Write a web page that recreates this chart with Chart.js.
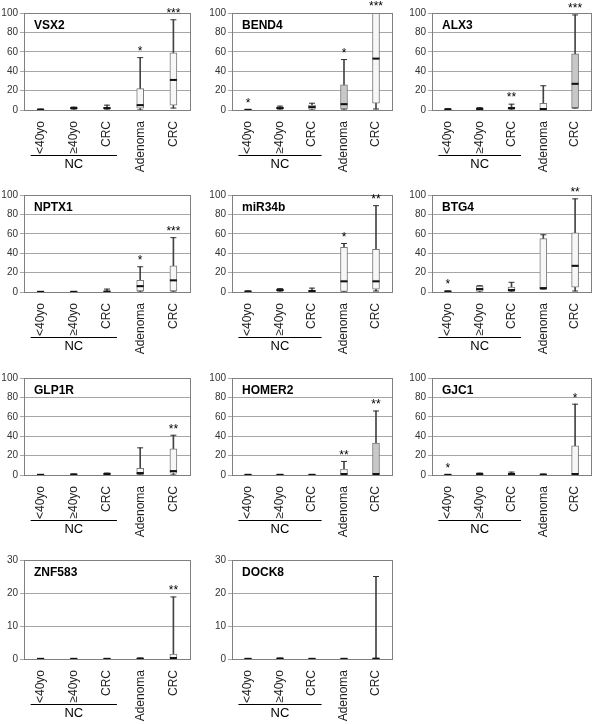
<!DOCTYPE html>
<html>
<head>
<meta charset="utf-8">
<script src="https://cdn.jsdelivr.net/npm/chart.js@4"></script>
<style>
  body { margin: 0; background: #fff; }
  #wrap { position: relative; width: 602px; height: 724px; }
  .panel { position: absolute; }
</style>
</head>
<body>
<div id="wrap"></div>
<script>
// groups on the x axis (first three are the NC group)
const groups = ['<40yo', '\u226540yo', 'CRC', 'Adenoma', 'CRC'];
const genes = ['VSX2', 'BEND4', 'ALX3', 'NPTX1', 'miR34b', 'BTG4', 'GLP1R', 'HOMER2', 'GJC1', 'ZNF583', 'DOCK8'];
const yMax = [100, 100, 100, 100, 100, 100, 100, 100, 100, 30, 30];

// each row: [min, q1, median, q3, max]
const VSX2 = [[0, 0, 0.3, 0.5, 1], [0, 1, 2, 2.5, 3], [0, 1, 2, 2.5, 5], [0, 2, 5, 22, 54], [2, 5, 31, 59, 93]];
const BEND4 = [[0, 0, 0.2, 0.5, 0.5], [0, 1, 2, 3, 4], [0, 1, 3, 5, 7], [0, 1, 6, 26, 52], [1, 7, 53, 130, 140]];
const ALX3 = [[0, 0, 0.5, 1, 1.5], [0, 0.5, 1, 2, 2.5], [0, 1, 2, 3, 6], [0, 0, 1, 7, 25], [2, 2, 27, 58, 98]];
const NPTX1 = [[0, 0, 0.2, 0.3, 0.5], [0, 0, 0.2, 0.3, 0.5], [0, 0, 0.5, 1, 3], [0, 1, 6, 12, 26], [0, 1, 12, 27, 56]];
const miR34b = [[0, 0, 0.5, 1, 1], [0, 1, 2, 3, 3.5], [0, 0, 1, 2, 4], [0, 0, 11, 46, 50], [1, 3, 11, 44, 89]];
const BTG4 = [[0, 0, 0.5, 1, 1], [0, 1, 3, 6, 6.5], [0, 1, 2, 5, 10], [3, 3, 4, 55, 59], [1, 5, 27, 61, 96]];
const GLP1R = [[0, 0, 0.2, 0.3, 0.5], [0, 0, 0.5, 1, 1], [0, 0.5, 1, 2, 2], [0, 0, 2, 7, 28], [0, 2, 4, 27, 41]];
const HOMER2 = [[0, 0, 0.2, 0.3, 0.5], [0, 0, 0.2, 0.3, 0.5], [0, 0, 0.2, 0.3, 0.5], [0, 0, 1, 6, 14], [0, 0, 1, 33, 66]];
const GJC1 = [[0, 0, 0.2, 0.3, 0.5], [0, 0.5, 1, 1.5, 2], [0, 0.5, 1, 1.5, 3], [0, 0, 0.3, 0.5, 1], [0, 0, 1, 30, 73]];
const ZNF583 = [[0, 0, 0.05, 0.1, 0.1], [0, 0, 0.05, 0.1, 0.1], [0, 0, 0.05, 0.1, 0.1], [0, 0, 0.1, 0.2, 0.3], [0, 0, 0.3, 1.5, 18.8]];
const DOCK8 = [[0, 0, 0.05, 0.1, 0.1], [0, 0, 0.1, 0.3, 0.3], [0, 0, 0.05, 0.1, 0.1], [0, 0, 0.05, 0.1, 0.1], [0, 0, 0.1, 0.3, 25]];

// significance marks per group
const stars = {
    VSX2: ['', '', '', '*', '***'],
    BEND4: ['*', '', '', '*', '***'],
    ALX3: ['', '', '**', '', '***'],
    NPTX1: ['', '', '', '*', '***'],
    miR34b: ['', '', '', '*', '**'],
    BTG4: ['*', '', '', '', '**'],
    GLP1R: ['', '', '', '', '**'],
    HOMER2: ['', '', '', '**', '**'],
    GJC1: ['*', '', '', '', '*'],
    ZNF583: ['', '', '', '', '**'],
    DOCK8: ['', '', '', '', '']
};
const boxData = {VSX2, BEND4, ALX3, NPTX1, miR34b, BTG4, GLP1R, HOMER2, GJC1, ZNF583, DOCK8};
const shaded = {BEND4: [3], ALX3: [4], HOMER2: [4]};

const FONT = "'Liberation Sans', Arial, sans-serif";
const colLeft = [0, 200, 400];
const yAxisW = [24, 32, 32];
const padRight = [10, 8, 9];
const rowTop = [0, 182, 365, 547];
const rowH = [180, 180, 180, 177];
const plotH = [97, 97, 97, 99];
const PAD_TOP = 13;

const panelDecor = {
    id: 'panelDecor',
    afterDatasetsDraw(chart, args, opts) {
        const {ctx, chartArea: a, scales: {x, y}} = chart;
        ctx.save();
        // frame
        ctx.strokeStyle = '#808080';
        ctx.lineWidth = 1;
        ctx.strokeRect(Math.round(a.left) + 0.5, Math.round(a.top) + 0.5, Math.round(a.right - a.left), Math.round(a.bottom - a.top));
        // gene name
        ctx.fillStyle = '#000';
        ctx.font = 'bold 12px ' + FONT;
        ctx.textBaseline = 'middle';
        ctx.textAlign = 'left';
        ctx.fillText(opts.gene, a.left + 10, a.top + 13);
        // stars
        ctx.font = '12px ' + FONT;
        ctx.textAlign = 'center';
        opts.rows.forEach((r, i) => {
            const s = opts.stars[i];
            if (!s) return;
            const top = Math.max(y.getPixelForValue(r[4]), a.top);
            ctx.fillText(s, x.getPixelForValue(i), top - 6);
        });
        // NC bracket
        const cw = x.getPixelForValue(1) - x.getPixelForValue(0);
        const ly = Math.round(a.bottom + 45) + 0.5;
        ctx.strokeStyle = '#000';
        ctx.beginPath();
        ctx.moveTo(x.getPixelForValue(0) - 0.3 * cw, ly);
        ctx.lineTo(x.getPixelForValue(2) + 0.3 * cw, ly);
        ctx.stroke();
        ctx.font = '13px ' + FONT;
        ctx.fillText('NC', x.getPixelForValue(1), a.bottom + 54);
        ctx.restore();
    }
};

const wrap = document.getElementById('wrap');

genes.forEach((g, k) => {
    const col = k % 3, row = Math.floor(k / 3);
    const div = document.createElement('div');
    div.className = 'panel';
    div.style.left = colLeft[col] + 'px';
    div.style.top = rowTop[row] + 'px';
    const cv = document.createElement('canvas');
    cv.width = 200;
    cv.height = rowH[row];
    div.appendChild(cv);
    wrap.appendChild(div);

    const rows = boxData[g];
    const fills = rows.map((r, i) => (shaded[g] || []).includes(i) ? '#c8c8c8' : '#f7f7f7');
    const boxStyle = {type: 'bar', grouped: false, barThickness: 7, backgroundColor: fills,
        borderColor: '#7a7a7a', borderWidth: 1, borderSkipped: false};
    const markStyle = {type: 'line', showLine: false, pointStyle: 'line', pointRotation: 0};

    new Chart(cv, {
        data: {
            labels: groups,
            datasets: [
                {...markStyle, data: rows.map(r => r[2]), pointRadius: 3.5, pointBorderWidth: 2, borderColor: '#111', order: 0},
                {...markStyle, data: rows.map(r => r[4]), pointRadius: 3, pointBorderWidth: 1, borderColor: '#333', order: 1},
                {...markStyle, data: rows.map(r => r[0]), pointRadius: 3, pointBorderWidth: 1, borderColor: '#333', order: 1},
                {...boxStyle, data: rows.map(r => [r[1], r[2]]), order: 2},
                {...boxStyle, data: rows.map(r => [r[2], r[3]]), order: 2},
                {type: 'bar', grouped: false, barThickness: 1, backgroundColor: '#444', borderWidth: 0,
                    data: rows.map(r => [r[0], r[4]]), order: 3}
            ]
        },
        options: {
            responsive: false,
            animation: false,
            events: [],
            layout: {padding: {top: PAD_TOP, right: padRight[col], left: 0, bottom: 0}},
            plugins: {
                legend: {display: false},
                tooltip: {enabled: false},
                panelDecor: {gene: g, rows: rows, stars: stars[g]}
            },
            scales: {
                x: {
                    grid: {display: false},
                    border: {display: true, color: '#808080'},
                    ticks: {color: '#222', font: {family: FONT, size: 12}, minRotation: 90, maxRotation: 90, autoSkip: false, padding: 3},
                    afterFit: s => { s.height = rowH[row] - PAD_TOP - plotH[row]; }
                },
                y: {
                    min: 0,
                    max: yMax[k],
                    grid: {color: '#a6a6a6', tickLength: 4, drawTicks: true},
                    border: {display: true, color: '#808080'},
                    ticks: {stepSize: yMax[k] === 30 ? 10 : 20, color: '#333', font: {family: FONT, size: 10}, padding: 2},
                    afterFit: s => { s.width = yAxisW[col]; }
                }
            }
        },
        plugins: [panelDecor]
    });
});
</script>
</body>
</html>
